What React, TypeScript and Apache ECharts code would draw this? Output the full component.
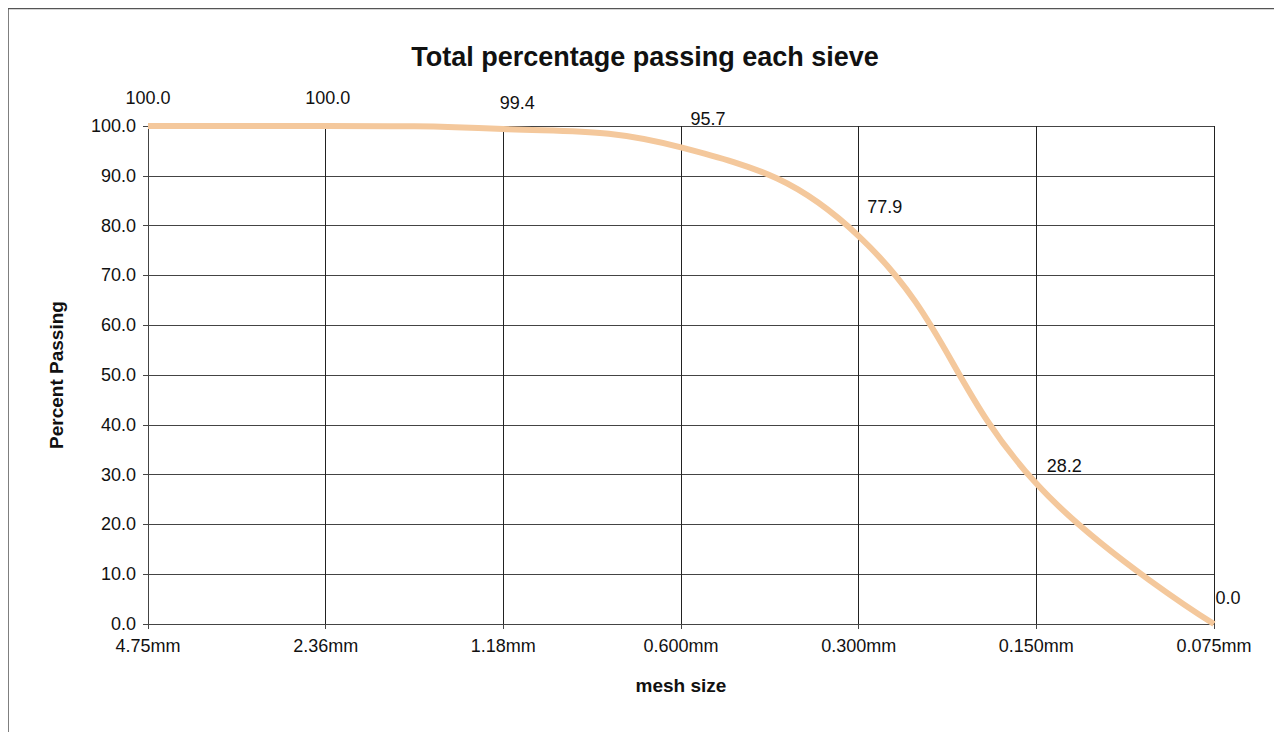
import React, { useEffect, useRef } from "react";
import * as echarts from "echarts";

const categories = ["4.75mm", "2.36mm", "1.18mm", "0.600mm", "0.300mm", "0.150mm", "0.075mm"];
const passing = [100.0, 100.0, 99.4, 95.7, 77.9, 28.2, 0.0];
const yTicks = [0, 10, 20, 30, 40, 50, 60, 70, 80, 90, 100];
// label offsets (style only) [dx, dy] from each point
const labelOffsets = [
  [0, -28],
  [2, -28],
  [14, -26],
  [27, -28],
  [26, -29],
  [28, -18],
  [14, -26],
];

const FONT = "'Liberation Sans', Arial, sans-serif";

export default function App() {
  const ref = useRef<HTMLDivElement>(null);
  useEffect(() => {
    if (!ref.current) return;
    const chart = echarts.init(ref.current, undefined, { renderer: "svg" });
    const data = passing.map((v, i) => ({
      value: v,
      label: { offset: labelOffsets[i] },
    }));
    chart.setOption({
      animation: false,
      backgroundColor: "#ffffff",
      textStyle: { fontFamily: FONT },
      title: {
        text: "Total percentage passing each sieve",
        left: "center",
        top: 30,
        textStyle: { fontFamily: FONT, fontSize: 27, fontWeight: "bold", color: "#111" },
      },
      graphic: [
        {
          type: "rect",
          shape: { x: 0, y: 0.5, width: 1400, height: 900 },
          style: { fill: "none", stroke: "#555", lineWidth: 1.5 },
          silent: true,
        },
      ],
      grid: { left: 140, right: 68, top: 118, bottom: 108 },
      xAxis: {
        type: "category",
        data: categories,
        boundaryGap: false,
        name: "mesh size",
        nameLocation: "middle",
        nameGap: 52,
        nameTextStyle: { fontFamily: FONT, fontSize: 19, fontWeight: "bold", color: "#111" },
        axisLine: { show: true, lineStyle: { color: "#444", width: 1 } },
        axisTick: { show: true, inside: false, length: 5, alignWithLabel: true, lineStyle: { color: "#444" } },
        axisLabel: { fontFamily: FONT, fontSize: 18, color: "#111", margin: 13 },
        splitLine: { show: true, lineStyle: { color: "#222", width: 1 } },
      },
      yAxis: {
        type: "value",
        min: 0,
        max: 100,
        interval: 10,
        name: "Percent Passing",
        nameLocation: "middle",
        nameGap: 82,
        nameTextStyle: { fontFamily: FONT, fontSize: 19, fontWeight: "bold", color: "#111" },
        axisLine: { show: true, lineStyle: { color: "#444", width: 1 } },
        axisTick: { show: true, inside: false, length: 5, lineStyle: { color: "#444" } },
        axisLabel: {
          fontFamily: FONT,
          fontSize: 18,
          color: "#111",
          margin: 12,
          formatter: (v: number) => (yTicks.includes(v) ? v.toFixed(1) : ""),
        },
        splitLine: { show: true, lineStyle: { color: "#444", width: 1 } },
      },
      series: [
        {
          type: "line",
          data,
          smooth: 0.42,
          symbol: "circle",
          symbolSize: 1,
          showSymbol: true,
          itemStyle: { color: "rgba(0,0,0,0)" },
          lineStyle: { color: "#F4C89C", width: 6 },
          label: {
            show: true,
            position: "inside",
            fontFamily: FONT,
            fontSize: 18,
            color: "#111",
            formatter: (p: any) => Number(p.value).toFixed(1),
          },
          z: 5,
        },
      ],
    });
    return () => chart.dispose();
  }, []);
  return <div ref={ref} style={{ width: 1274, height: 724 }} />;
}
